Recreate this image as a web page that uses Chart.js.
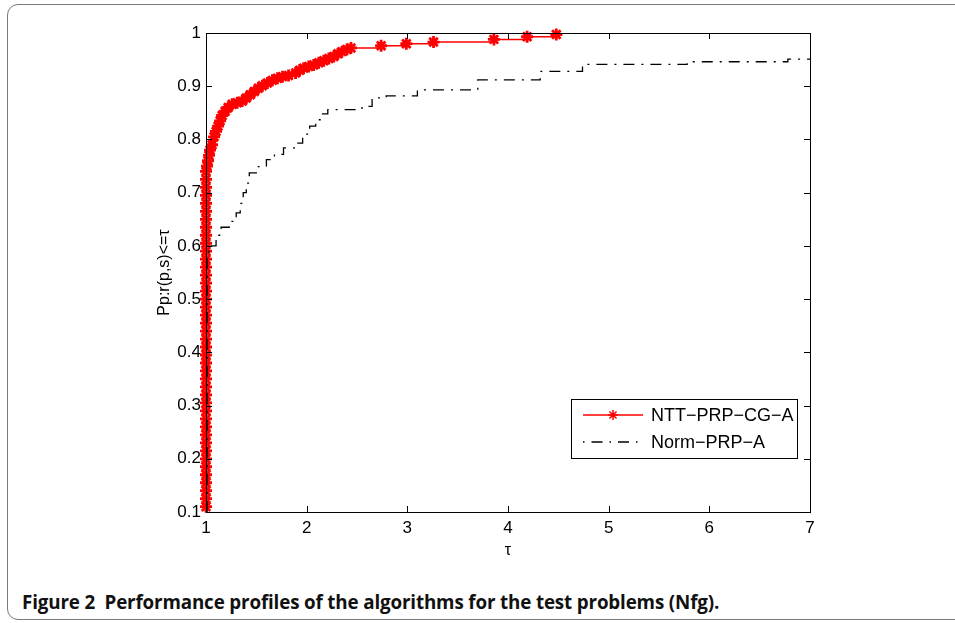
<!DOCTYPE html>
<html>
<head>
<meta charset="utf-8">
<script src="https://cdn.jsdelivr.net/npm/chart.js@4.4.1/dist/chart.umd.min.js"></script>
<style>
  html, body { margin: 0; padding: 0; background: #fff; width: 955px; height: 623px; overflow: hidden; }
  #frame { position: absolute; left: 7px; top: 4px; width: 1000px; height: 616px; border: 1.5px solid #7a7a7a; border-radius: 11px; box-sizing: border-box; }
  #wrap { position: absolute; left: 0; top: 0; width: 955px; height: 570px; }
  #cap { position: absolute; left: 22px; top: 590px; font: bold 18.8px/25px "Open Sans"; color: #111; white-space: nowrap; letter-spacing: -0.15px; }
</style>
</head>
<body>
<div id="frame"></div>
<div id="wrap"><canvas id="perf" width="955" height="570"></canvas></div>
<div id="cap">Figure 2&nbsp; Performance profiles of the algorithms for the test problems (Nfg).</div>
<script>
// ticks
const xTicks = [1, 2, 3, 4, 5, 6, 7]
const yTicks = [0.1, 0.2, 0.3, 0.4, 0.5, 0.6, 0.7, 0.8, 0.9, 1]

// NTT-PRP-CG-A (rouge, etoiles)
const nttTau = [
  1, 1, 1, 1, 1, 1, 1, 1, 1, 1, 1, 1, 1, 1, 1, 1, 1, 1, 1, 1, 1, 1,
  1, 1, 1, 1, 1, 1, 1, 1, 1, 1, 1, 1, 1, 1, 1, 1, 1, 1, 1, 1, 1,
  1.01, 1.02, 1.03, 1.04, 1.06, 1.08, 1.1, 1.12, 1.14, 1.16, 1.19, 1.22, 1.26, 1.31, 1.36, 1.4,
  1.44, 1.48, 1.52, 1.56, 1.61, 1.66, 1.71, 1.76, 1.82, 1.89, 1.93, 1.97, 2.02, 2.07, 2.12, 2.17,
  2.22, 2.27, 2.31, 2.35, 2.4, 2.44, 2.74, 2.99, 3.26, 3.86, 4.19, 4.48
]
const nttProb = [
  0.11, 0.125, 0.14, 0.155, 0.17, 0.185, 0.2, 0.215, 0.23, 0.245, 0.26, 0.275, 0.29, 0.305, 0.32, 0.335, 0.35, 0.365, 0.38, 0.395, 0.41, 0.425,
  0.44, 0.455, 0.47, 0.485, 0.5, 0.515, 0.53, 0.545, 0.56, 0.575, 0.59, 0.605, 0.62, 0.635, 0.65, 0.665, 0.68, 0.695, 0.71, 0.725, 0.74,
  0.75, 0.76, 0.77, 0.78, 0.79, 0.805, 0.815, 0.825, 0.835, 0.845, 0.853, 0.86, 0.866, 0.869, 0.872, 0.878,
  0.884, 0.89, 0.896, 0.901, 0.906, 0.911, 0.915, 0.918, 0.92, 0.925, 0.93, 0.934, 0.937, 0.94, 0.944, 0.948,
  0.952, 0.956, 0.961, 0.965, 0.969, 0.972, 0.976, 0.98, 0.983, 0.988, 0.993, 0.997
]

// Norm-PRP-A (noir, tiret-point)
const normTau = [1.01, 1.01, 1.03, 1.05, 1.1, 1.15, 1.23, 1.3, 1.34, 1.37, 1.4, 1.43, 1.51, 1.6, 1.68, 1.77, 1.89, 1.96, 2.03, 2.09, 2.15, 2.21, 2.55, 2.65, 2.79, 3.1, 3.7, 4.32, 4.74, 5.78, 6.78, 7]
const normProb = [0.1, 0.58, 0.59, 0.6, 0.62, 0.635, 0.646, 0.662, 0.68, 0.7, 0.718, 0.737, 0.749, 0.762, 0.772, 0.784, 0.793, 0.81, 0.825, 0.837, 0.848, 0.856, 0.862, 0.878, 0.882, 0.893, 0.912, 0.928, 0.941, 0.946, 0.951, 0.951]

const seriesNames = ['NTT\u2212PRP\u2212CG\u2212A', 'Norm\u2212PRP\u2212A']

const FONT = '"Liberation Sans", Arial, sans-serif'

// boite + graduations vers l'interieur (style matlab) + legende
const matlabAxes = {
  id: 'matlabAxes',
  afterDraw(chart) {
    const ctx = chart.ctx
    const a = chart.chartArea
    const xs = chart.scales.x
    const ys = chart.scales.y
    ctx.save()
    ctx.strokeStyle = '#000'
    ctx.lineWidth = 1
    ctx.strokeRect(a.left + 0.5, a.top + 0.5, a.right - a.left, a.bottom - a.top)
    ctx.beginPath()
    xTicks.forEach(v => {
      const px = Math.round(xs.getPixelForValue(v)) + 0.5
      ctx.moveTo(px, a.bottom); ctx.lineTo(px, a.bottom - 6)
      ctx.moveTo(px, a.top); ctx.lineTo(px, a.top + 6)
    })
    yTicks.forEach(v => {
      const py = Math.round(ys.getPixelForValue(v)) + 0.5
      ctx.moveTo(a.left, py); ctx.lineTo(a.left + 6, py)
      ctx.moveTo(a.right, py); ctx.lineTo(a.right - 6, py)
    })
    ctx.stroke()

    // legende
    const lx = 571, ly = 399, lw = 226, lh = 59
    ctx.fillStyle = '#fff'
    ctx.fillRect(lx, ly, lw, lh)
    ctx.strokeRect(lx + 0.5, ly + 0.5, lw, lh)
    ctx.font = '18px ' + FONT
    ctx.textBaseline = 'middle'
    ctx.fillStyle = '#000'

    ctx.strokeStyle = '#ff0000'
    ctx.lineWidth = 1.5
    ctx.beginPath(); ctx.moveTo(583, 415); ctx.lineTo(643, 415); ctx.stroke()
    Chart.helpers.drawPoint(ctx, { pointStyle: 'star', radius: 5, borderWidth: 1.5 }, 613, 415)
    ctx.fillText(seriesNames[0], 651, 416)

    ctx.strokeStyle = '#000'
    ctx.lineWidth = 1.3
    ctx.setLineDash([1.5, 7, 11, 7])
    ctx.beginPath(); ctx.moveTo(583, 442); ctx.lineTo(643, 442); ctx.stroke()
    ctx.setLineDash([])
    ctx.fillText(seriesNames[1], 651, 443)
    ctx.restore()
  }
}

new Chart(
  document.getElementById('perf'),
  {
    type: 'line',
    data: {
      datasets: [
        {
          label: seriesNames[1],
          data: normTau.map((t, i) => ({ x: t, y: normProb[i] })),
          borderColor: '#000',
          borderWidth: 1.3,
          borderDash: [11, 7, 2, 7],
          pointRadius: 0,
          stepped: true,
          order: 0,
        },
        {
          label: seriesNames[0],
          data: nttTau.map((t, i) => ({ x: t, y: nttProb[i] })),
          borderColor: '#ff0000',
          backgroundColor: '#ff0000',
          borderWidth: 1.5,
          pointStyle: 'star',
          pointRadius: 6,
          pointBorderWidth: 2.8,
          pointBorderColor: '#ff0000',
          stepped: true,
          clip: 10,
          order: 1,
        }
      ]
    },
    options: {
      responsive: false,
      animation: false,
      devicePixelRatio: 1,
      layout: { padding: { left: 150, top: 33, right: 145, bottom: 0 } },
      plugins: { legend: { display: false }, tooltip: { enabled: false } },
      scales: {
        x: {
          type: 'linear',
          min: 1,
          max: 7,
          afterBuildTicks: s => { s.ticks = xTicks.map(v => ({ value: v })) },
          afterFit: s => { s.height = 58 },
          grid: { display: true, drawOnChartArea: false, drawTicks: false },
          border: { display: false },
          ticks: { color: '#000', font: { family: FONT, size: 17 }, padding: 6, maxRotation: 0, callback: v => v },
          title: { display: true, text: '\u03c4', color: '#000', font: { family: FONT, size: 16 }, padding: { top: 0, bottom: 10 } }
        },
        y: {
          type: 'linear',
          min: 0.1,
          max: 1,
          afterBuildTicks: s => { s.ticks = yTicks.map(v => ({ value: v })) },
          afterFit: s => { s.width = 56 },
          grid: { display: true, drawOnChartArea: false, drawTicks: false },
          border: { display: false },
          ticks: { color: '#000', font: { family: FONT, size: 17 }, padding: 5, callback: v => v },
          title: { display: true, text: 'Pp:r(p,s)<=\u03c4', color: '#000', font: { family: FONT, size: 16 }, padding: { top: 5, bottom: 0 } }
        }
      }
    },
    plugins: [matlabAxes]
  }
);
</script>
</body>
</html>
